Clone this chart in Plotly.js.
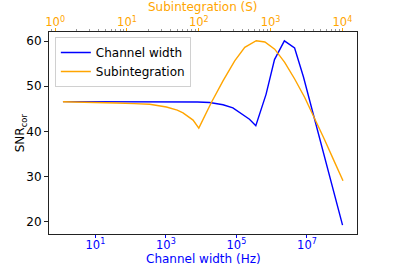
<!DOCTYPE html>
<html>
<head>
<meta charset="utf-8">
<script src="https://cdn.plot.ly/plotly-3.0.1.min.js"></script>
<style>
  html, body { margin: 0; padding: 0; background: white; }
  #snr_plot { width: 397px; height: 264px; }
</style>
</head>
<body>
<div id="snr_plot"></div>
<script>
// channel width sweep (Hz) and the SNR it gives
var chan_width = [1.2, 3.16, 10, 31.6, 100, 316, 1000, 3162, 7943, 17378, 41687, 79433,
		  151356, 234423, 354813, 691831, 1.202e6, 2.291e6, 4.467e6, 7.943e6,
		  1.514e7, 2.884e7, 5.495e7, 1.023e8];
var snr_chan = [46.6, 46.6, 46.6, 46.6, 46.6, 46.6, 46.6, 46.55, 46.5, 46.4, 45.9, 45.2,
		43.8, 42.7, 41.25, 48.2, 55.9, 60.05, 58.45, 52.1,
		43.8, 35.5, 27.2, 19.25];

// subintegration sweep (S) and the SNR it gives
var subint = [1.285, 3.16, 7.11, 12.6, 20.7, 35.4, 50.1, 60.3, 83.2, 100, 149.6, 217.3,
	      316.2, 436.5, 631, 831.8, 1140, 1570, 2163, 2985, 4074, 5623, 7586, 10186];
var snr_sub = [46.56, 46.5, 46.3, 46.15, 46.0, 45.4, 44.7, 44.1, 42.5, 40.74, 46.4, 51.2,
	       55.6, 58.6, 60.07, 59.8, 58.2, 55.3, 51.6, 47.5, 43.1, 38.2, 33.6, 29.1];

var bottom_ticks = [10, 1e3, 1e5, 1e7];
var bottom_labels = ['10<sup>1</sup>', '10<sup>3</sup>', '10<sup>5</sup>', '10<sup>7</sup>'];
var top_ticks = [1, 10, 100, 1e3, 1e4];
var top_labels = ['10<sup>0</sup>', '10<sup>1</sup>', '10<sup>2</sup>', '10<sup>3</sup>', '10<sup>4</sup>'];

var data = [
    {
	name : 'Channel width',
	type : 'scatter',
	mode : 'lines',
	x : chan_width,
	y : snr_chan,
	xaxis : 'x',
	line : { color : 'blue', width : 1.4 }
    },
    {
	name : 'Subintegration',
	type : 'scatter',
	mode : 'lines',
	x : subint,
	y : snr_sub,
	xaxis : 'x2',
	line : { color : 'orange', width : 1.4 }
    }
];

// axis titles as annotations so they sit where matplotlib put them
var titles = [
    { text : 'Channel width (Hz)', x : 0.5, y : -0.124, color : 'blue', angle : 0 },
    { text : 'Subintegration (S)', x : 0.5, y : 1.124, color : 'orange', angle : 0 },
    { text : 'SNR<sub>cor</sub>', x : -0.09, y : 0.5, color : 'black', angle : -90 }
];
var annotations = [];
for (let i = 0; i < titles.length; i++) {
    annotations.push({
	text : titles[i].text,
	xref : 'paper', yref : 'paper',
	x : titles[i].x, y : titles[i].y,
	xanchor : 'center', yanchor : 'middle',
	textangle : titles[i].angle,
	showarrow : false,
	font : { color : titles[i].color, size : 12 }
    });
}

var layout = {
    width : 397,
    height : 264,
    margin : { l : 49, r : 40, t : 32, b : 30 },
    paper_bgcolor : 'white',
    plot_bgcolor : 'white',
    font : { family : 'DejaVu Sans', size : 12, color : 'black' },
    showlegend : true,
    legend : {
	x : 0.019, y : 0.975, xanchor : 'left', yanchor : 'top',
	bgcolor : 'rgba(255,255,255,0.8)',
	bordercolor : '#d0d0d0', borderwidth : 1,
	font : { size : 12 },
	traceorder : 'normal',
	tracegroupgap : 0
    },
    annotations : annotations,
    xaxis : {
	type : 'log',
	range : [-0.316, 8.42],
	tickmode : 'array',
	tickvals : bottom_ticks,
	ticktext : bottom_labels,
	ticks : 'outside', ticklen : 3, tickcolor : 'blue',
	ticklabelstandoff : -3,
	tickfont : { color : 'blue', size : 11.5 },
	showgrid : false, zeroline : false,
	showline : true, linecolor : '#222', linewidth : 1, mirror : true,
	automargin : false
    },
    xaxis2 : {
	type : 'log',
	overlaying : 'x',
	side : 'top',
	anchor : 'y',
	range : [-0.086, 4.203],
	tickmode : 'array',
	tickvals : top_ticks,
	ticktext : top_labels,
	ticks : 'outside', ticklen : 3, tickcolor : 'orange',
	ticklabelstandoff : -3,
	tickfont : { color : 'orange', size : 11.5 },
	minor : { ticks : 'outside', ticklen : 2, tickcolor : '#999', dtick : 'D1', showgrid : false },
	showgrid : false, zeroline : false,
	showline : false,
	automargin : false
    },
    yaxis : {
	range : [17.3, 62.0],
	tickmode : 'linear', tick0 : 20, dtick : 10,
	ticks : 'outside', ticklen : 4, tickcolor : '#222',
	tickfont : { size : 12 },
	showgrid : false, zeroline : false,
	showline : true, linecolor : '#222', linewidth : 1, mirror : true,
	automargin : false
    }
};

Plotly.newPlot('snr_plot', data, layout, { staticPlot : true, displayModeBar : false });
</script>
</body>
</html>
